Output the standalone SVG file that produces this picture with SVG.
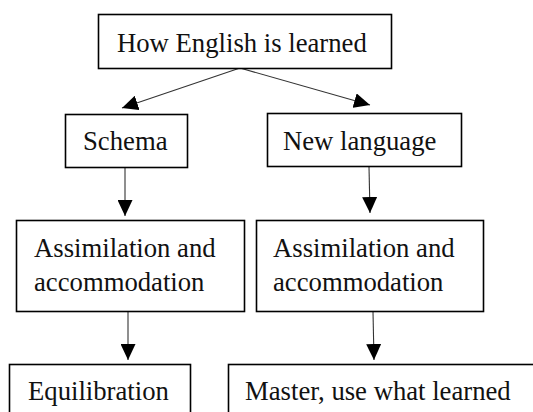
<svg xmlns="http://www.w3.org/2000/svg" width="533" height="412" viewBox="0 0 533 412">
<defs>
<marker id="ah" markerUnits="userSpaceOnUse" markerWidth="17" markerHeight="15" refX="16" refY="7.5" orient="auto">
<path d="M0,0 L16,7.5 L0,15 Z" fill="#000"/>
</marker>
<style>
.box{fill:#fff;stroke:#000;stroke-width:1.6}
.t{font-family:"Liberation Serif","Times New Roman",serif;font-size:26.7px;fill:#111}
.c{stroke:#333;stroke-width:1.1;fill:none;marker-end:url(#ah)}
</style>
</defs>
<rect width="533" height="412" fill="#fff"/>
<g id="connectors">
<line class="c" x1="240" y1="68" x2="122" y2="108"/>
<line class="c" x1="240" y1="68" x2="370" y2="105"/>
<line class="c" x1="125" y1="168" x2="125" y2="216"/>
<line class="c" x1="369" y1="167" x2="370" y2="213"/>
<line class="c" x1="128" y1="311" x2="128" y2="360"/>
<line class="c" x1="373" y1="312" x2="374" y2="360"/>
</g>
<g id="n-how">
<rect class="box" x="98.5" y="14.5" width="293" height="54"/>
<text class="t" x="117" y="52">How English is learned</text>
</g>
<g id="n-schema">
<rect class="box" x="65.5" y="114.5" width="122" height="53"/>
<text class="t" x="83" y="150">Schema</text>
</g>
<g id="n-newlang">
<rect class="box" x="267.5" y="113.5" width="194" height="53"/>
<text class="t" x="283" y="150">New language</text>
</g>
<g id="n-assim-left">
<rect class="box" x="16.5" y="220.5" width="228" height="91"/>
<text class="t" x="34" y="257">Assimilation and</text>
<text class="t" x="34" y="291">accommodation</text>
</g>
<g id="n-assim-right">
<rect class="box" x="256.5" y="220.5" width="227" height="91"/>
<text class="t" x="273" y="257">Assimilation and</text>
<text class="t" x="273" y="291">accommodation</text>
</g>
<g id="n-equil">
<rect class="box" x="9.5" y="364.5" width="181" height="60"/>
<text class="t" x="28" y="400">Equilibration</text>
</g>
<g id="n-master">
<rect class="box" x="228.5" y="364.5" width="320" height="60"/>
<text class="t" x="245" y="400">Master, use what learned</text>
</g>
</svg>
